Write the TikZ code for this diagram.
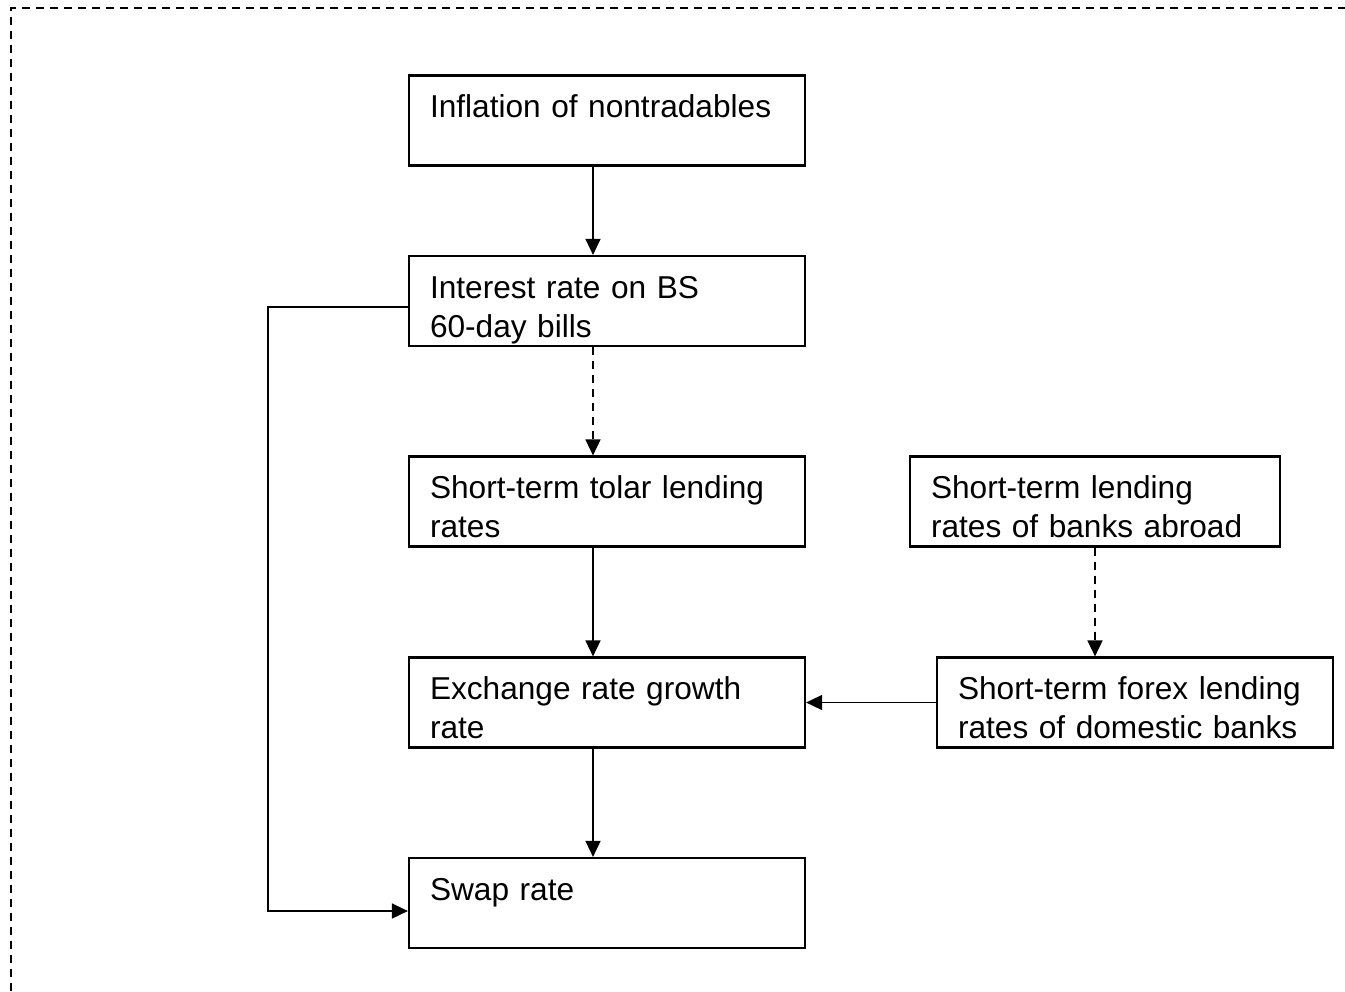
\documentclass[tikz,border=0pt]{standalone}
\usepackage{fontspec}
\setmainfont{Liberation Sans}
\usetikzlibrary{arrows.meta}

\begin{document}
\begin{tikzpicture}[
    box/.style={draw, line width=1.25pt, text width=#1, align=left,
        inner xsep=0.42cm, inner ysep=0pt, minimum height=1.8cm,
        text height=20pt, text depth=23pt,
        font=\fontsize{18}{22}\selectfont},
    box/.default=7.08cm,
    link/.style={line width=0.9pt, -{Triangle[length=0.32cm,width=0.3cm]}},
    weak/.style={link, dash pattern=on 0.16cm off 0.12cm}]
    \useasboundingbox (0,0) rectangle (26.9,-19.82);
    % frame, open to the right and below
    \draw[line width=1.2pt, dash pattern=on 0.16cm off 0.12cm]
        (0.22,-19.82) -- (0.22,-0.16) -- (26.9,-0.16);

    % the chain in the middle
    \node[box] (infl) at (12.14,-2.41) {Inflation of nontradables};
    \node[box] (rate) at (12.14,-6.02) {Interest rate on BS\\60-day bills};
    \node[box] (tolar) at (12.14,-10.03) {Short-term tolar lending\\rates};
    \node[box] (growth) at (12.14,-14.05) {Exchange rate growth\\rate};
    \node[box] (swap) at (12.14,-18.06) {Swap rate};
    % foreign side
    \node[box=6.56cm] (abroad) at (21.9,-10.03) {Short-term lending\\rates of banks abroad};
    \node[box] (forex) at (22.7,-14.05) {Short-term forex lending\\rates of domestic banks};

    \coordinate (spine) at (11.86,0);
    \draw[link] (infl.south -| spine) -- (rate.north -| spine);
    \draw[weak] (rate.south -| spine) -- (tolar.north -| spine);
    \draw[link] (tolar.south -| spine) -- (growth.north -| spine);
    \draw[link] (growth.south -| spine) -- (swap.north -| spine);
    \draw[weak] (abroad.south) -- (abroad.south |- forex.north);
    \draw[link] (forex.west) -- (growth.east);
    % bypass on the left
    \draw[link] ([yshift=-0.12cm]rate.west) -- ++(-2.8,0) |- ([yshift=-0.16cm]swap.west);
\end{tikzpicture}
\end{document}
